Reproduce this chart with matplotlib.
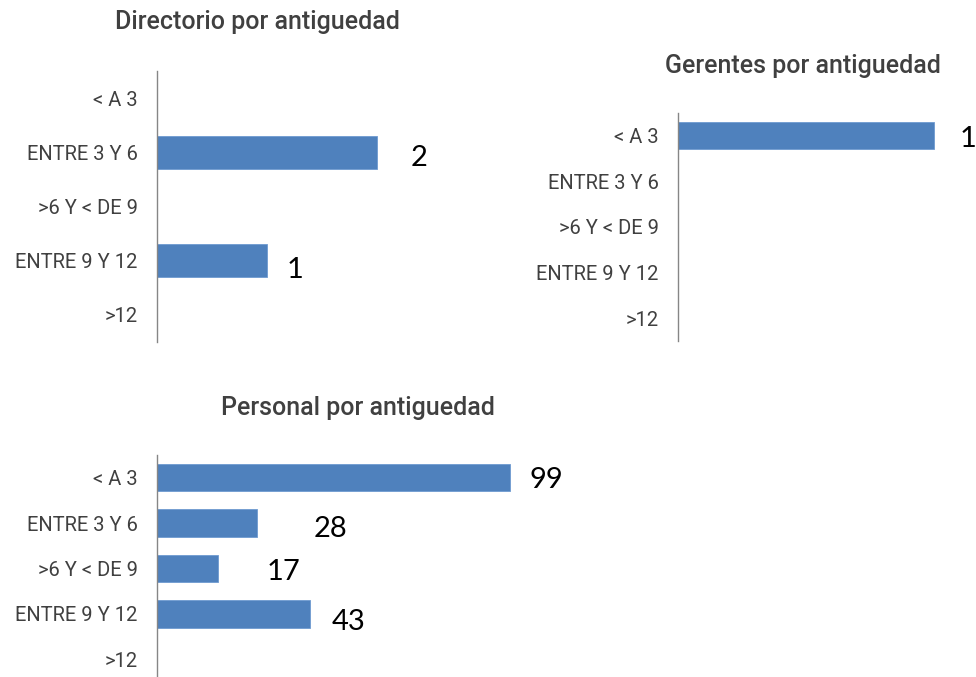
import matplotlib
matplotlib.use("Agg")
import matplotlib.pyplot as plt

# ─────────────────────────────────────────────────────────────
#  DATA
# ─────────────────────────────────────────────────────────────
categorias = ["< A 3", "ENTRE 3 Y 6", ">6 Y < DE 9", "ENTRE 9 Y 12", ">12"]

directorio = [0, 2, 0, 1, 0]
gerentes   = [1, 0, 0, 0, 0]
personal   = [99, 28, 17, 43, 0]

titulo_dir = "Directorio por antiguedad"
titulo_ger = "Gerentes por antiguedad"
titulo_per = "Personal por antiguedad"

# ─────────────────────────────────────────────────────────────
#  ESTILO
# ─────────────────────────────────────────────────────────────
AZUL   = "#4F81BD"
GRIS   = "#404040"
EJE    = "#868686"
F_TICK = ["Roboto", "DejaVu Sans"]
F_NUM  = ["Lato", "DejaVu Sans"]

W, H = 976, 677
fig = plt.figure(figsize=(W / 100, H / 100), dpi=100)


def px_axes(left, top, bottom, width):
    return fig.add_axes([left / W, (H - bottom) / H, width / W, (bottom - top) / H])


def grafico(ax, valores, xmax, titulo, tx, ty, offsets):
    y = range(len(categorias))
    ax.barh(y, valores, height=0.6, color=AZUL, edgecolor="#6f9bd1", linewidth=0.6)
    ax.set_ylim(len(categorias) - 0.5, -0.5)
    ax.set_xlim(0, xmax)
    ax.set_yticks(list(y))
    ax.set_yticklabels(categorias, fontsize=14.5, color=GRIS, family=F_TICK)
    ax.tick_params(axis="y", length=0, pad=14)
    ax.set_xticks([])
    for s in ["top", "right", "bottom"]:
        ax.spines[s].set_visible(False)
    ax.spines["left"].set_color(EJE)
    ax.spines["left"].set_linewidth(1.0)
    ax.patch.set_alpha(0)
    for i, v in enumerate(valores):
        if v == 0:
            continue
        ax.annotate(str(v), (v, i), xytext=offsets[i], textcoords="offset pixels",
                    ha="left", va="center", fontsize=21, color="black", family=F_NUM,
                    annotation_clip=False)
    fig.text(tx / W, 1 - ty / H, titulo, ha="center", va="center",
             fontsize=18, color=GRIS, family=F_TICK, fontweight="medium")


# ── Directorio ──
ax1 = px_axes(157, 71, 342, 275)
grafico(ax1, directorio, 2.5, titulo_dir, 257, 22,
        [(0, 0), (34, -6), (0, 0), (20, -9), (0, 0)])

# ── Gerentes ──
ax2 = px_axes(678, 113, 341, 282)
grafico(ax2, gerentes, 1.1, titulo_ger, 803, 66,
        [(25, -3), (0, 0), (0, 0), (0, 0), (0, 0)])

# ── Personal ──
ax3 = px_axes(157, 455, 682, 428)
grafico(ax3, personal, 120, titulo_per, 358, 408,
        [(19, -2), (57, -6), (49, -3), (21, -8), (0, 0)])

fig.savefig("out.png", dpi=100, facecolor="white")
